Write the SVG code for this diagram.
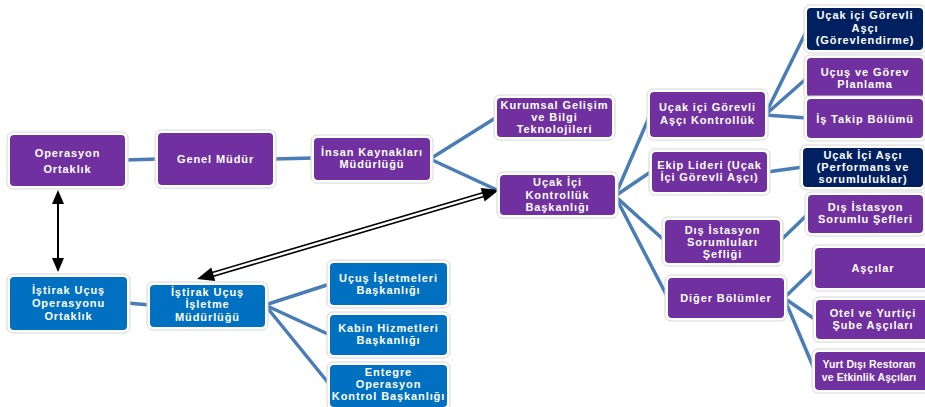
<svg xmlns="http://www.w3.org/2000/svg" width="925" height="407" viewBox="0 0 925 407">
<defs>
<style>
.halo{fill:#ffffff;stroke:#d6d6d6;stroke-width:1}
.p{fill:#7030A0}
.n{fill:#002060}
.b{fill:#0070C0}
text{font-family:"Liberation Sans",Arial,sans-serif;font-weight:bold;font-size:11px;fill:#ffffff;text-anchor:middle;letter-spacing:0.9px}
text.tight{letter-spacing:0.1px;font-size:10.5px}
.c{stroke:#4A7DB5;stroke-width:3.5;fill:none;stroke-linecap:round}
</style>
</defs>
<rect width="925" height="407" fill="#ffffff"/>
<g id="connectors">
<line class="c" x1="125" y1="160" x2="158" y2="159"/>
<line class="c" x1="273" y1="159" x2="314" y2="158"/>
<line class="c" x1="430" y1="159" x2="497" y2="117"/>
<line class="c" x1="430" y1="159" x2="497" y2="190"/>
<line class="c" x1="615" y1="196" x2="650" y2="115"/>
<line class="c" x1="615" y1="196" x2="652" y2="171"/>
<line class="c" x1="615" y1="196" x2="665" y2="241"/>
<line class="c" x1="615" y1="196" x2="668" y2="298"/>
<line class="c" x1="765" y1="115" x2="807" y2="30"/>
<line class="c" x1="765" y1="115" x2="807" y2="78"/>
<line class="c" x1="765" y1="115" x2="807" y2="118"/>
<line class="c" x1="767" y1="172" x2="803" y2="167"/>
<line class="c" x1="780" y1="241" x2="808" y2="214"/>
<line class="c" x1="784" y1="298" x2="815" y2="268"/>
<line class="c" x1="784" y1="298" x2="816" y2="320"/>
<line class="c" x1="784" y1="298" x2="815" y2="371"/>
<line class="c" x1="127" y1="303" x2="150" y2="305"/>
<line class="c" x1="265" y1="305" x2="330" y2="284"/>
<line class="c" x1="265" y1="305" x2="330" y2="335"/>
<line class="c" x1="265" y1="305" x2="330" y2="385"/>
<g id="vertical-arrow">
<line x1="58" y1="200" x2="58" y2="262" stroke="#000" stroke-width="2"/>
<polygon points="58,190 52,204 64,204" fill="#000"/>
<polygon points="58,272 52,258 64,258" fill="#000"/>
</g>
<g id="double-arrow" transform="translate(197,279) rotate(-16.42)">
<line x1="13" y1="-2" x2="302" y2="-2" stroke="#000" stroke-width="1.6"/>
<line x1="13" y1="2" x2="302" y2="2" stroke="#000" stroke-width="1.6"/>
<polygon points="0,0 17,-7 17,7" fill="#000"/>
<polygon points="314.8,0 297.8,-7 297.8,7" fill="#000"/>
</g>
</g>
<g id="operasyon-ortaklik"><rect class="halo" x="7" y="132" width="121" height="57" rx="6"/><rect class="p" x="10" y="135" width="115" height="51" rx="4"/><text x="67.5" y="157">Operasyon</text><text x="67.5" y="173">Ortaklık</text></g>
<g id="genel-mudur"><rect class="halo" x="155" y="130" width="121" height="58" rx="6"/><rect class="p" x="158" y="133" width="115" height="52" rx="4"/><text x="215.5" y="163">Genel Müdür</text></g>
<g id="insan-kaynaklari"><rect class="halo" x="311" y="135" width="122" height="48" rx="6"/><rect class="p" x="314" y="138" width="116" height="42" rx="4"/><text x="372" y="156">İnsan Kaynakları</text><text x="372" y="168">Müdürlüğü</text></g>
<g id="kurumsal-gelisim"><rect class="halo" x="494" y="95" width="121" height="45" rx="6"/><rect class="p" x="497" y="98" width="115" height="39" rx="4"/><text x="554.5" y="109">Kurumsal Gelişim</text><text x="554.5" y="121">ve Bilgi</text><text x="554.5" y="133">Teknolojileri</text></g>
<g id="ucak-ici-kontrolluk-baskanligi"><rect class="halo" x="497" y="172" width="121" height="46" rx="6"/><rect class="p" x="500" y="175" width="115" height="40" rx="4"/><text x="557.5" y="186">Uçak İçi</text><text x="557.5" y="199">Kontrollük</text><text x="557.5" y="211">Başkanlığı</text></g>
<g id="gorevli-asci-kontrolluk"><rect class="halo" x="647" y="89" width="121" height="51" rx="6"/><rect class="p" x="650" y="92" width="115" height="45" rx="4"/><text x="707.5" y="111">Uçak içi Görevli</text><text x="707.5" y="124">Aşçı Kontrollük</text></g>
<g id="gorevlendirme"><rect class="halo" x="804" y="5" width="122" height="48" rx="6"/><rect class="n" x="807" y="8" width="116" height="42" rx="4"/><text x="865" y="19">Uçak içi Görevli</text><text x="865" y="32">Aşçı</text><text x="865" y="44">(Görevlendirme)</text></g>
<g id="ucus-gorev-planlama"><rect class="halo" x="804" y="55" width="122" height="45" rx="6"/><rect class="p" x="807" y="58" width="116" height="39" rx="4"/><text x="865" y="76">Uçuş ve Görev</text><text x="865" y="88">Planlama</text></g>
<g id="is-takip"><rect class="halo" x="804" y="96" width="122" height="45" rx="6"/><rect class="p" x="807" y="99" width="116" height="39" rx="4"/><text x="865" y="122.5">İş Takip Bölümü</text></g>
<g id="ekip-lideri"><rect class="halo" x="649" y="149" width="121" height="46" rx="6"/><rect class="p" x="652" y="152" width="115" height="40" rx="4"/><text x="709.5" y="169">Ekip Lideri (Uçak</text><text x="709.5" y="181">İçi Görevli Aşçı)</text></g>
<g id="ucak-ici-asci-performans"><rect class="halo" x="800" y="145" width="126" height="45" rx="6"/><rect class="n" x="803" y="148" width="120" height="39" rx="4"/><text x="863" y="159">Uçak İçi Aşçı</text><text x="863" y="171">(Performans ve</text><text x="863" y="183">sorumluluklar)</text></g>
<g id="dis-istasyon-sefleri"><rect class="halo" x="805" y="192" width="121" height="44" rx="6"/><rect class="p" x="808" y="195" width="115" height="38" rx="4"/><text x="865.5" y="211">Dış İstasyon</text><text x="865.5" y="223">Sorumlu Şefleri</text></g>
<g id="dis-istasyon-sefligi"><rect class="halo" x="662" y="217" width="121" height="49" rx="6"/><rect class="p" x="665" y="220" width="115" height="43" rx="4"/><text x="722.5" y="234">Dış İstasyon</text><text x="722.5" y="246">Sorumluları</text><text x="722.5" y="258">Şefliği</text></g>
<g id="diger-bolumler"><rect class="halo" x="665" y="275" width="122" height="46" rx="6"/><rect class="p" x="668" y="278" width="116" height="40" rx="4"/><text x="726" y="302">Diğer Bölümler</text></g>
<g id="ascilar"><rect class="halo" x="812" y="245" width="122" height="46" rx="6"/><rect class="p" x="815" y="248" width="116" height="40" rx="4"/><text x="873" y="272">Aşçılar</text></g>
<g id="otel-yurtici"><rect class="halo" x="813" y="297" width="122" height="45" rx="6"/><rect class="p" x="816" y="300" width="116" height="39" rx="4"/><text x="873" y="317">Otel ve Yurtiçi</text><text x="873" y="329">Şube Aşçıları</text></g>
<g id="yurt-disi"><rect class="halo" x="812" y="349" width="122" height="44" rx="6"/><rect class="p" x="815" y="352" width="116" height="38" rx="4"/><text class="tight" x="869" y="368">Yurt Dışı Restoran</text><text class="tight" x="869" y="381">ve Etkinlik Aşçıları</text></g>
<g id="istirak-ortaklik"><rect class="halo" x="7" y="274" width="123" height="59" rx="6"/><rect class="b" x="10" y="277" width="117" height="53" rx="4"/><text x="68.5" y="294">İştirak Uçuş</text><text x="68.5" y="307">Operasyonu</text><text x="68.5" y="320">Ortaklık</text></g>
<g id="istirak-isletme"><rect class="halo" x="147" y="282" width="121" height="48" rx="6"/><rect class="b" x="150" y="285" width="115" height="42" rx="4"/><text x="207.5" y="296">İştirak Uçuş</text><text x="207.5" y="308">İşletme</text><text x="207.5" y="321">Müdürlüğü</text></g>
<g id="ucus-isletmeleri"><rect class="halo" x="327" y="260" width="123" height="48" rx="6"/><rect class="b" x="330" y="263" width="117" height="42" rx="4"/><text x="388.5" y="282">Uçuş İşletmeleri</text><text x="388.5" y="294">Başkanlığı</text></g>
<g id="kabin-hizmetleri"><rect class="halo" x="327" y="312" width="123" height="46" rx="6"/><rect class="b" x="330" y="315" width="117" height="40" rx="4"/><text x="388.5" y="332">Kabin Hizmetleri</text><text x="388.5" y="344">Başkanlığı</text></g>
<g id="entegre-operasyon"><rect class="halo" x="327" y="362" width="123" height="48" rx="6"/><rect class="b" x="330" y="365" width="117" height="42" rx="4"/><text x="388.5" y="376">Entegre</text><text x="388.5" y="388">Operasyon</text><text x="388.5" y="400">Kontrol Başkanlığı</text></g>
</svg>
